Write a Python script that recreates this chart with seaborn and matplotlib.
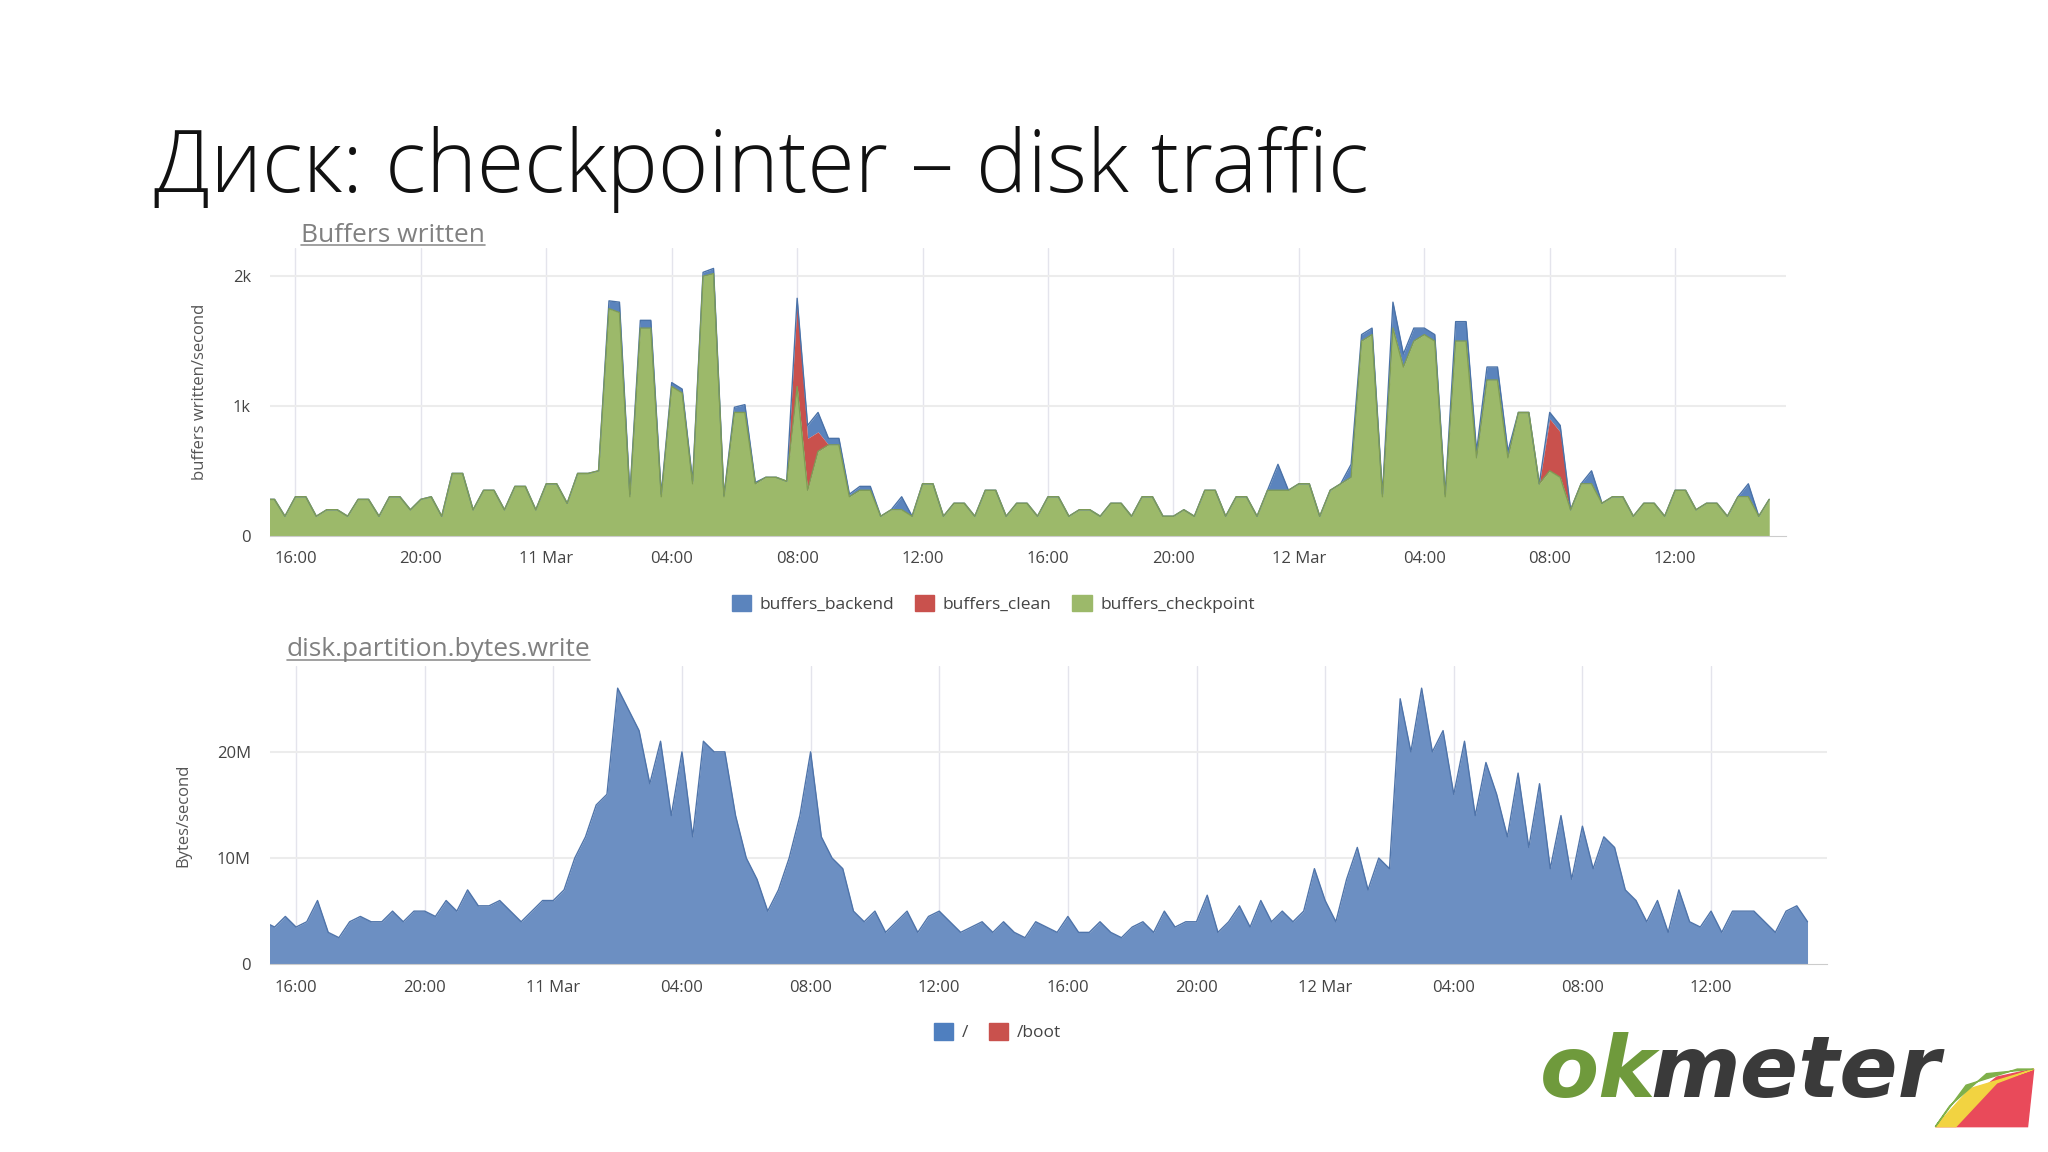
import numpy as np
import pandas as pd
import matplotlib
matplotlib.use("Agg")
import matplotlib.pyplot as plt
from matplotlib.lines import Line2D
from matplotlib.patches import Polygon, Patch
import seaborn as sns

# time: hours since 10 Mar 00:00, 20-minute steps from 15:00 Mar 10 to 15:00 Mar 12
hours = [15 + i / 3 for i in range(145)]

buffers_checkpoint = [
    280, 280, 150, 300, 300, 150, 200, 200, 150, 280, 280, 150,
    300, 300, 200, 280, 300, 150, 480, 480, 200, 350, 350, 200,
    380, 380, 200, 400, 400, 250, 480, 480, 500, 1750, 1720, 300,
    1600, 1600, 300, 1150, 1100, 400, 2000, 2020, 300, 950, 950, 400,
    450, 450, 420, 1150, 350, 650, 700, 700, 300, 350, 350, 150,
    200, 200, 150, 400, 400, 150, 250, 250, 150, 350, 350, 150,
    250, 250, 150, 300, 300, 150, 200, 200, 150, 250, 250, 150,
    300, 300, 150, 150, 200, 150, 350, 350, 150, 300, 300, 150,
    350, 350, 350, 400, 400, 150, 350, 400, 450, 1500, 1550, 300,
    1600, 1300, 1500, 1550, 1500, 300, 1500, 1500, 600, 1200, 1200, 600,
    950, 950, 400, 500, 450, 200, 400, 400, 250, 300, 300, 150,
    250, 250, 150, 350, 350, 200, 250, 250, 150, 300, 300, 150,
    280]
buffers_clean = [0] * 51 + [650, 400, 150] + [0] * 69 + [400, 350, 0] + [0] * 19
buffers_backend = (
    [0] * 33 + [60, 80, 20, 60, 60, 20, 30, 30, 20, 30, 40, 10, 40, 60, 10]
    + [0] * 3 + [30, 100, 150, 50, 50, 20, 30, 30, 0, 0, 100, 0]
    + [0] * 33 + [0, 200, 0, 0, 0, 0, 0, 0, 100, 50, 50, 20]
    + [200, 100, 100, 50, 50, 20, 150, 150, 50, 100, 100, 50, 0, 0, 0, 50, 50, 0, 0, 100, 0]
    + [0] * 12 + [0, 100, 0] + [0] * 7)
buffers_backend = (buffers_backend + [0] * 145)[:145]

disk_root = [
    4, 3.5, 4.5, 3.5, 4, 6, 3, 2.5, 4, 4.5, 4, 4,
    5, 4, 5, 5, 4.5, 6, 5, 7, 5.5, 5.5, 6, 5,
    4, 5, 6, 6, 7, 10, 12, 15, 16, 26, 24, 22,
    17, 21, 14, 20, 12, 21, 20, 20, 14, 10, 8, 5,
    7, 10, 14, 20, 12, 10, 9, 5, 4, 5, 3, 4,
    5, 3, 4.5, 5, 4, 3, 3.5, 4, 3, 4, 3, 2.5,
    4, 3.5, 3, 4.5, 3, 3, 4, 3, 2.5, 3.5, 4, 3,
    5, 3.5, 4, 4, 6.5, 3, 4, 5.5, 3.5, 6, 4, 5,
    4, 5, 9, 6, 4, 8, 11, 7, 10, 9, 25, 20,
    26, 20, 22, 16, 21, 14, 19, 16, 12, 18, 11, 17,
    9, 14, 8, 13, 9, 12, 11, 7, 6, 4, 6, 3,
    7, 4, 3.5, 5, 3, 5, 5, 5, 4, 3, 5, 5.5,
    4]
disk_boot = [0] * 145

tick_pos = [16, 20, 24, 28, 32, 36, 40, 44, 48, 52, 56, 60]
tick_labels = ["16:00", "20:00", "11 Mar", "04:00", "08:00", "12:00",
               "16:00", "20:00", "12 Mar", "04:00", "08:00", "12:00"]

C_BLUE = "#5b84bd"
C_RED = "#c9514d"
C_GREEN = "#9cb96a"

sns.set_style("white")
plt.rcParams["font.family"] = ["Open Sans", "DejaVu Sans"]

fig = plt.figure(figsize=(20.48, 11.52), dpi=100)

fig.text(0.075, 0.853, "Диск: checkpointer – disk traffic", fontsize=62,
         color="#111111", va="center", ha="left", fontweight="light")

df = pd.DataFrame({"t": hours, "cp": buffers_checkpoint, "cl": buffers_clean,
                   "be": buffers_backend, "root": np.array(disk_root) * 1e6,
                   "boot": disk_boot})
df["s1"] = df["cp"]
df["s2"] = df["cp"] + df["cl"]
df["s3"] = df["s2"] + df["be"]


def style_axes(ax, ylim, yticks, ylabels, ylabel, xmax):
    ax.set_xlim(15.2, xmax)
    ax.set_ylim(*ylim)
    ax.set_xticks(tick_pos)
    ax.set_xticklabels(tick_labels, fontsize=12, color="#444444")
    ax.set_yticks(yticks)
    ax.set_yticklabels(ylabels, fontsize=12, color="#444444")
    ax.set_ylabel(ylabel, fontsize=12, color="#555555", labelpad=18)
    ax.set_xlabel("")
    for x in tick_pos:
        ax.axvline(x, color="#e4e4ec", lw=1, zorder=0)
    for y in yticks[1:]:
        ax.axhline(y, color="#ececec", lw=1.5, zorder=0)
    for s in ["top", "right", "left"]:
        ax.spines[s].set_visible(False)
    ax.spines["bottom"].set_color("#cccccc")
    ax.tick_params(axis="x", length=5, color="#cccccc", pad=6)
    ax.tick_params(axis="y", length=0, pad=14)


ax1 = fig.add_axes([0.132, 0.535, 0.740, 0.250])
tt = df["t"].values
ax1.fill_between(tt, df["s2"], df["s3"], color=C_BLUE, lw=0, zorder=2)
ax1.fill_between(tt, df["s1"], df["s2"], color=C_RED, lw=0, zorder=2)
ax1.fill_between(tt, 0, df["s1"], color=C_GREEN, lw=0, zorder=2)
sns.lineplot(data=df, x="t", y="s3", ax=ax1, color="#4a72a8", lw=1, zorder=3)
sns.lineplot(data=df, x="t", y="s1", ax=ax1, color="#7f9c55", lw=1, zorder=3)
style_axes(ax1, (0, 2220), [0, 1000, 2000], ["0", "1k", "2k"],
           "buffers written/second", 63.53)

ax2 = fig.add_axes([0.132, 0.163, 0.760, 0.259])
ax2.fill_between(tt, 0, df["root"], color="#6c8fc2", lw=0, zorder=2)
sns.lineplot(data=df, x="t", y="root", ax=ax2, color="#4f74aa", lw=1, zorder=3)
style_axes(ax2, (0, 28.1e6), [0, 10e6, 20e6], ["0", "10M", "20M"],
           "Bytes/second", 63.6)

# subtitles (underlined)
for x0, y0, txt in [(0.147, 0.796, "Buffers written"),
                    (0.140, 0.436, "disk.partition.bytes.write")]:
    t = fig.text(x0, y0, txt, fontsize=19, color="#808080", va="center", ha="left")
    fig.canvas.draw()
    bb = t.get_window_extent().transformed(fig.transFigure.inverted())
    fig.add_artist(Line2D([bb.x0, bb.x1], [bb.y0 + 0.002, bb.y0 + 0.002],
                          color="#909090", lw=1.2))

# legends
h1 = [Patch(color=C_BLUE, label="buffers_backend"),
      Patch(color=C_RED, label="buffers_clean"),
      Patch(color=C_GREEN, label="buffers_checkpoint")]
fig.legend(handles=h1, loc="center", bbox_to_anchor=(0.485, 0.476), ncol=3,
           frameon=False, fontsize=12.5, handlelength=1.1, handleheight=1.1,
           columnspacing=1.2, handletextpad=0.5, labelcolor="#444444")
h2 = [Patch(color="#4f7fbf", label="/"), Patch(color=C_RED, label="/boot")]
fig.legend(handles=h2, loc="center", bbox_to_anchor=(0.487, 0.104), ncol=2,
           frameon=False, fontsize=12.5, handlelength=1.1, handleheight=1.1,
           columnspacing=1.2, handletextpad=0.5, labelcolor="#444444")

# logo
fig.text(0.752, 0.048, "ok", fontsize=62, fontweight="bold", style="italic",
         color="#6f9a3c", family=["DejaVu Sans"])
fig.text(0.806, 0.048, "meter", fontsize=62, fontweight="bold", style="italic",
         color="#3a3a3a", family=["DejaVu Sans"])
fig.add_artist(Polygon([[0.945, 0.022], [0.975, 0.065], [0.993, 0.072],
                        [0.990, 0.022]], closed=True, color="#e94a5a",
                       transform=fig.transFigure))
fig.add_artist(Polygon([[0.945, 0.022], [0.962, 0.055], [0.99, 0.07],
                        [0.993, 0.072], [0.975, 0.060], [0.955, 0.022]],
                       closed=True, color="#f2d341", transform=fig.transFigure))
fig.add_artist(Polygon([[0.945, 0.022], [0.960, 0.058], [0.985, 0.072],
                        [0.993, 0.072], [0.970, 0.068], [0.952, 0.040]],
                       closed=True, color="#7fb04a", transform=fig.transFigure))

fig.savefig("out.png", dpi=100)
